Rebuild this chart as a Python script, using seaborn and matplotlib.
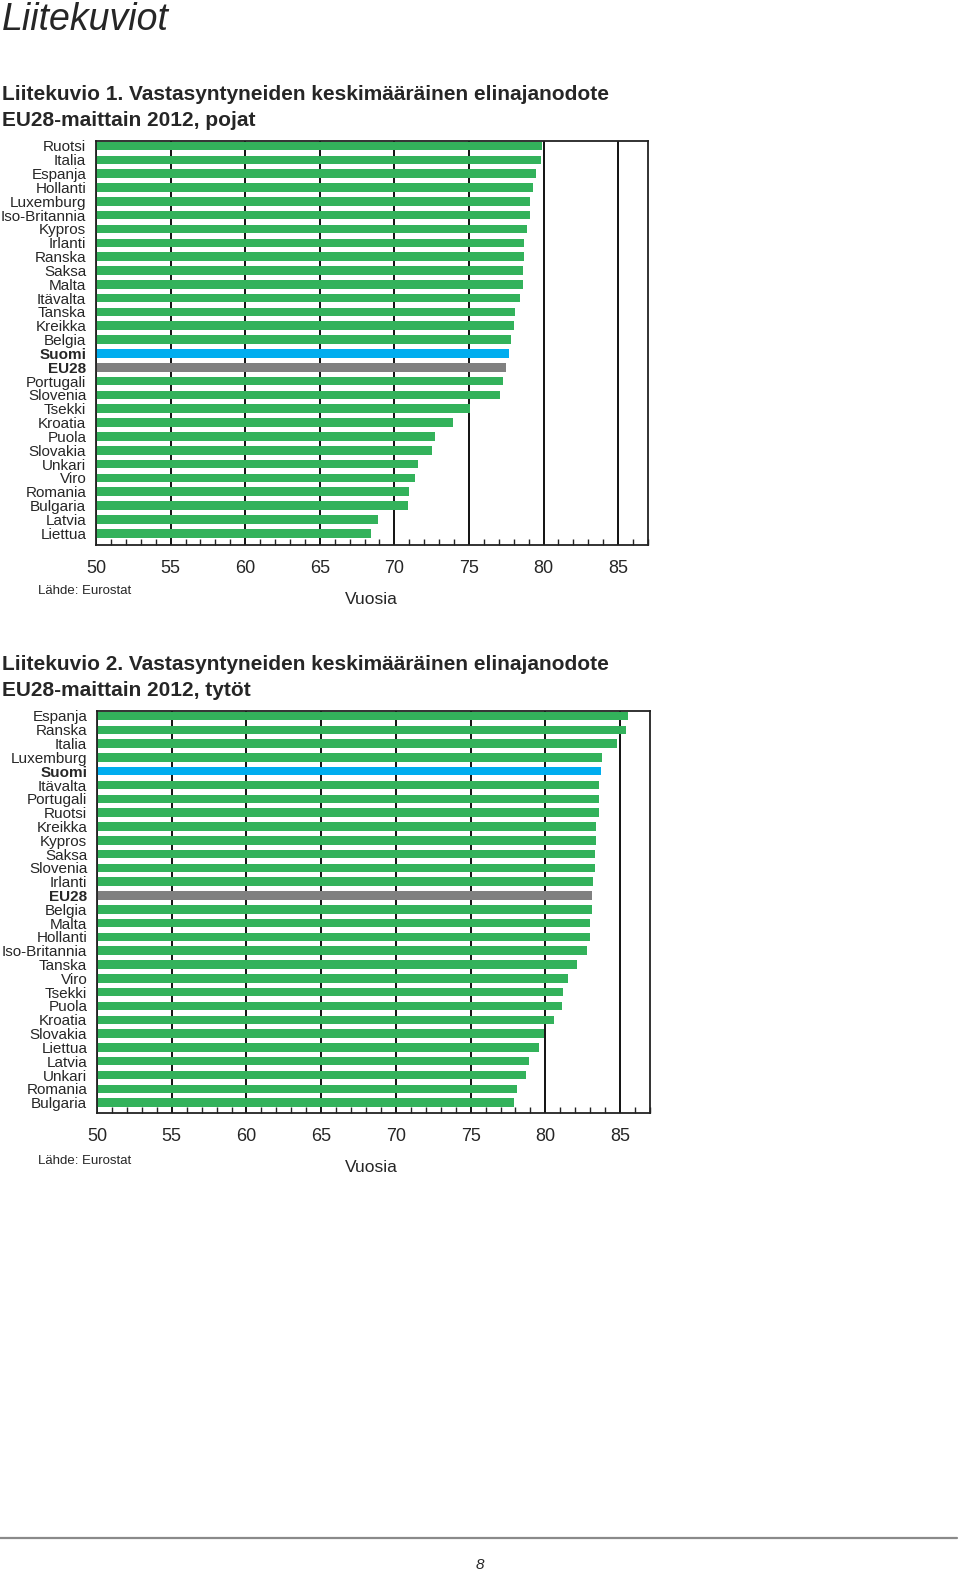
import numpy as np
import matplotlib
matplotlib.use("Agg")
import matplotlib.pyplot as plt
from matplotlib.ticker import MultipleLocator
import seaborn as sns

# Liitekuvio 1: pojat
boys_countries = ["Ruotsi", "Italia", "Espanja", "Hollanti", "Luxemburg", "Iso-Britannia",
                  "Kypros", "Irlanti", "Ranska", "Saksa", "Malta", "Itävalta", "Tanska",
                  "Kreikka", "Belgia", "Suomi", "EU28", "Portugali", "Slovenia", "Tsekki",
                  "Kroatia", "Puola", "Slovakia", "Unkari", "Viro", "Romania", "Bulgaria",
                  "Latvia", "Liettua"]
boys_values = [79.9, 79.8, 79.5, 79.3, 79.1, 79.1, 78.9, 78.7, 78.7, 78.6, 78.6, 78.4, 78.1,
               78.0, 77.8, 77.7, 77.5, 77.3, 77.1, 75.1, 73.9, 72.7, 72.5, 71.6, 71.4, 71.0,
               70.9, 68.9, 68.4]

# Liitekuvio 2: tytöt
girls_countries = ["Espanja", "Ranska", "Italia", "Luxemburg", "Suomi", "Itävalta", "Portugali",
                   "Ruotsi", "Kreikka", "Kypros", "Saksa", "Slovenia", "Irlanti", "EU28",
                   "Belgia", "Malta", "Hollanti", "Iso-Britannia", "Tanska", "Viro", "Tsekki",
                   "Puola", "Kroatia", "Slovakia", "Liettua", "Latvia", "Unkari", "Romania",
                   "Bulgaria"]
girls_values = [85.5, 85.4, 84.8, 83.8, 83.7, 83.6, 83.6, 83.6, 83.4, 83.4, 83.3, 83.3, 83.2,
                83.1, 83.1, 83.0, 83.0, 82.8, 82.1, 81.5, 81.2, 81.1, 80.6, 79.9, 79.6, 78.9,
                78.7, 78.1, 77.9]

x_ticks = [50, 55, 60, 65, 70, 75, 80, 85]

GREEN = "#33b25b"
BLUE = "#00adef"
GREY = "#808080"
NARROW = ["Liberation Sans Narrow", "Liberation Sans", "DejaVu Sans"]

sns.set_style("white")
plt.rcParams["font.family"] = ["Liberation Sans", "DejaVu Sans"]

W, H = 960, 1572
fig = plt.figure(figsize=(W / 100, H / 100), dpi=100)


def px_axes(left, top, right, bottom):
    return fig.add_axes([left / W, 1 - bottom / H, (right - left) / W, (bottom - top) / H])


def ftext(x, y, s, **kw):
    fig.text(x / W, 1 - y / H, s, **kw)


def draw_chart(ax, countries, values, ylim):
    colors = {c: (BLUE if c == "Suomi" else GREY if c == "EU28" else GREEN) for c in countries}
    sns.barplot(x=values, y=countries, hue=countries, palette=colors, legend=False,
                orient="h", width=0.62, saturation=1, linewidth=0, ax=ax, zorder=2)
    ax.set_xlim(50, 87)
    ax.set_ylim(*ylim)
    ax.set_xticks(x_ticks)
    ax.xaxis.set_minor_locator(MultipleLocator(1))
    ax.set_axisbelow(True)
    ax.grid(axis="x", which="major", color="#111111", lw=1.4, zorder=0)
    ax.grid(axis="y", visible=False)
    ax.tick_params(axis="x", which="minor", direction="in", length=4, width=1, color="#222222",
                   bottom=True)
    ax.tick_params(axis="x", which="major", direction="in", length=0, pad=11)
    ax.tick_params(axis="y", length=0, pad=7)
    for sp in ax.spines.values():
        sp.set_visible(True)
        sp.set_color("#222222")
        sp.set_linewidth(1.3)
    ax.set_xlabel("")
    ax.set_ylabel("")
    for lab in ax.get_xticklabels():
        lab.set_fontfamily(NARROW)
        lab.set_fontsize(13)
    for lab in ax.get_yticklabels():
        lab.set_fontfamily(NARROW)
        lab.set_fontsize(11)
        if lab.get_text() in ("Suomi", "EU28"):
            lab.set_fontweight("bold")


ax1 = px_axes(96, 141, 648, 545)
draw_chart(ax1, boys_countries, boys_values, (28.85, -0.36))
ax2 = px_axes(97, 711, 650, 1113)
draw_chart(ax2, girls_countries, girls_values, (28.75, -0.36))

# headings
ftext(2, 20, "Liitekuviot", fontsize=27, style="italic", va="center", ha="left")
ftext(2, 95, "Liitekuvio 1. Vastasyntyneiden keskimääräinen elinajanodote",
      fontsize=15, weight="bold", va="center", ha="left")
ftext(2, 120, "EU28-maittain 2012, pojat", fontsize=15, weight="bold", va="center", ha="left")
ftext(2, 665, "Liitekuvio 2. Vastasyntyneiden keskimääräinen elinajanodote",
      fontsize=15, weight="bold", va="center", ha="left")
ftext(2, 690, "EU28-maittain 2012, tytöt", fontsize=15, weight="bold", va="center", ha="left")

# axis captions
for y_src, y_lab in [(591, 599), (1161, 1168)]:
    ftext(38, y_src, "Lähde: Eurostat", fontsize=9.5, va="center", ha="left")
    ftext(371, y_lab, "Vuosia", fontsize=12.5, family=NARROW, va="center", ha="center")

# footer
fig.add_artist(plt.Line2D([0, 957 / W], [1 - 1538 / H] * 2, color="#8a8a8a", lw=1.6))
ftext(480, 1565, "8", fontsize=11, style="italic", va="center", ha="center")

fig.savefig("out.png", dpi=100)
